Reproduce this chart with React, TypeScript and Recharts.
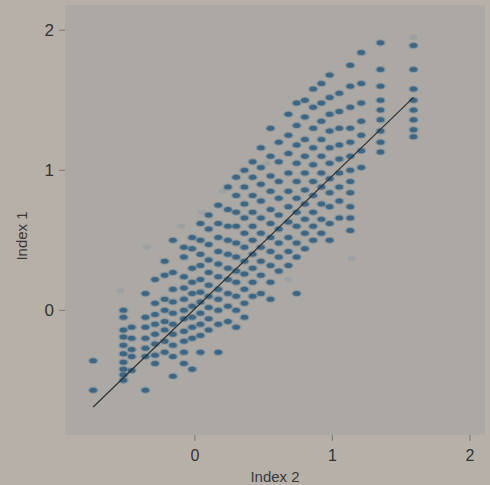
import React from "react";
import {
  ScatterChart,
  Scatter,
  XAxis,
  YAxis,
  CartesianGrid,
} from "recharts";

// x positions of the point columns ("Index 2")
const columnX = [
  -0.74, -0.52, -0.46, -0.36, -0.29, -0.22, -0.16, -0.08, -0.02, 0.04, 0.1,
  0.17, 0.24, 0.3, 0.36, 0.42, 0.48, 0.55, 0.61, 0.68, 0.74, 0.8, 0.86, 0.92,
  0.98, 1.05, 1.13, 1.21, 1.35, 1.59,
];

// "Index 1" values in each column
const columnY = [
  [-0.36, -0.57],
  [0.0, -0.05, -0.14, -0.19, -0.25, -0.31, -0.37, -0.42, -0.46, -0.5],
  [-0.12, -0.2, -0.28, -0.33, -0.43],
  [0.12, -0.05, -0.12, -0.2, -0.27, -0.33, -0.57],
  [0.22, 0.05, -0.03, -0.1, -0.17, -0.24, -0.32, -0.38],
  [0.35, 0.25, 0.08, 0.0, -0.08, -0.14, -0.22, -0.3],
  [0.5, 0.27, 0.15, 0.06, -0.02, -0.1, -0.17, -0.25, -0.33, -0.47],
  [0.45, 0.38, 0.24, 0.16, 0.08, 0.0, -0.06, -0.15, -0.22, -0.3, -0.38],
  [0.52, 0.44, 0.3, 0.2, 0.12, 0.03, -0.05, -0.12, -0.2, -0.42],
  [0.62, 0.5, 0.4, 0.32, 0.22, 0.13, 0.06, -0.02, -0.1, -0.18, -0.3],
  [0.68, 0.58, 0.47, 0.36, 0.27, 0.18, 0.1, 0.02, -0.06, -0.14],
  [0.75, 0.62, 0.52, 0.42, 0.33, 0.24, 0.15, 0.08, 0.0, -0.1, -0.3],
  [0.88, 0.72, 0.6, 0.5, 0.4, 0.3, 0.22, 0.12, 0.03, -0.08],
  [0.95, 0.82, 0.7, 0.6, 0.48, 0.38, 0.28, 0.2, 0.1, 0.0, -0.12],
  [1.0, 0.88, 0.76, 0.66, 0.55, 0.45, 0.35, 0.26, 0.15, 0.05, -0.05],
  [1.06, 0.95, 0.82, 0.7, 0.6, 0.5, 0.4, 0.3, 0.2, 0.1],
  [1.16, 1.02, 0.9, 0.78, 0.66, 0.55, 0.45, 0.35, 0.25, 0.12],
  [1.3, 1.1, 0.96, 0.85, 0.72, 0.62, 0.52, 0.42, 0.32, 0.2, 0.08],
  [1.2, 1.06, 0.92, 0.8, 0.68, 0.58, 0.48, 0.38, 0.28],
  [1.4, 1.25, 1.12, 0.98, 0.85, 0.74, 0.63, 0.52, 0.42, 0.32],
  [1.48, 1.32, 1.18, 1.05, 0.92, 0.8, 0.7, 0.6, 0.48, 0.38, 0.12],
  [1.5, 1.38, 1.22, 1.1, 0.98, 0.86, 0.76, 0.65, 0.55, 0.44],
  [1.58, 1.45, 1.3, 1.16, 1.04, 0.92, 0.82, 0.7, 0.6, 0.5],
  [1.62, 1.48, 1.35, 1.22, 1.1, 0.98, 0.88, 0.76, 0.65, 0.55],
  [1.68, 1.52, 1.4, 1.28, 1.16, 1.05, 0.94, 0.84, 0.74, 0.62, 0.5],
  [1.55, 1.42, 1.3, 1.18, 1.08, 0.98, 0.88, 0.78, 0.66],
  [1.75, 1.6, 1.45, 1.3, 1.2, 1.1, 1.0, 0.92, 0.84, 0.74, 0.66, 0.57],
  [1.84, 1.62, 1.48, 1.35, 1.25, 1.14, 1.02],
  [1.91, 1.72, 1.6, 1.5, 1.43, 1.36, 1.28, 1.2, 1.13],
  [1.89, 1.72, 1.58, 1.5, 1.43, 1.36, 1.29, 1.24],
];

// faint (washed out) points
const faintX = [-0.54, 1.14, 1.59, -0.35, 0.2, 0.05, 0.68, -0.1, 0.52];
const faintY = [0.14, 0.37, 1.95, 0.45, 0.85, 0.7, 0.22, 0.6, 1.05];

// fitted line end points
const fitX = [-0.74, 1.59];
const fitY = [-0.69, 1.52];

const xTicks = [0, 1, 2];
const yTicks = [0, 1, 2];

const points = columnX.flatMap((x, i) => columnY[i].map((y) => ({ x, y })));
const faint = faintX.map((x, i) => ({ x, y: faintY[i] }));
const fit = fitX.map((x, i) => ({ x, y: fitY[i] }));

const Dot = (props: any) => {
  const { cx, cy } = props;
  if (cx == null || cy == null) return <g />;
  return (
    <g>
      <ellipse cx={cx} cy={cy} rx={5.2} ry={3.6} fill="#4a7797" fillOpacity={0.35} />
      <ellipse cx={cx} cy={cy} rx={3.8} ry={2.5} fill="#35607e" fillOpacity={0.9} />
    </g>
  );
};

const FaintDot = (props: any) => {
  const { cx, cy } = props;
  if (cx == null || cy == null) return <g />;
  return <ellipse cx={cx} cy={cy} rx={4} ry={2.6} fill="#8d9aa3" fillOpacity={0.5} />;
};

const font = "'Liberation Sans', Arial, sans-serif";

const YLabel = (props: any) => {
  const vb = props.viewBox || {};
  const cy = (vb.y || 0) + (vb.height || 0) / 2 + 16;
  return (
    <text
      x={21}
      y={cy}
      transform={`rotate(-90, 21, ${cy})`}
      textAnchor="middle"
      dominantBaseline="central"
      fill="#3a3a3a"
      fontSize={15}
      fontFamily={font}
    >
      Index 1
    </text>
  );
};

export default function App() {
  return (
    <div
      style={{
        position: "absolute",
        left: 0,
        top: 0,
        width: 490,
        height: 485,
        background: "#b7b0a8",
        fontFamily: font,
      }}
    >
      <ScatterChart
        width={490}
        height={485}
        margin={{ top: 5, right: 5, bottom: 0, left: 0 }}
      >
        <CartesianGrid fill="#aca8a4" stroke="none" />
        <XAxis
          type="number"
          dataKey="x"
          domain={[-0.945, 2.11]}
          ticks={xTicks}
          height={50}
          axisLine={false}
          tickSize={6}
          tickMargin={9}
          tickLine={{ stroke: "#777" }}
          tick={{ fill: "#333", fontSize: 16, fontFamily: font }}
          label={{
            value: "Index 2",
            position: "insideBottom",
            offset: 3,
            fill: "#3a3a3a",
            fontSize: 15,
            fontFamily: font,
          }}
        />
        <YAxis
          type="number"
          dataKey="y"
          domain={[-0.89, 2.18]}
          ticks={yTicks}
          width={65}
          axisLine={false}
          tickSize={6}
          tickMargin={5}
          tickLine={{ stroke: "#777" }}
          tick={{ fill: "#333", fontSize: 17, fontFamily: font }}
          label={{ content: YLabel }}
        />
        <Scatter data={faint} shape={FaintDot} isAnimationActive={false} />
        <Scatter data={points} shape={Dot} isAnimationActive={false} />
        <Scatter
          data={fit}
          line={{ stroke: "#2f2f2f", strokeWidth: 1.2 }}
          shape={() => <g />}
          isAnimationActive={false}
        />
      </ScatterChart>
    </div>
  );
}
